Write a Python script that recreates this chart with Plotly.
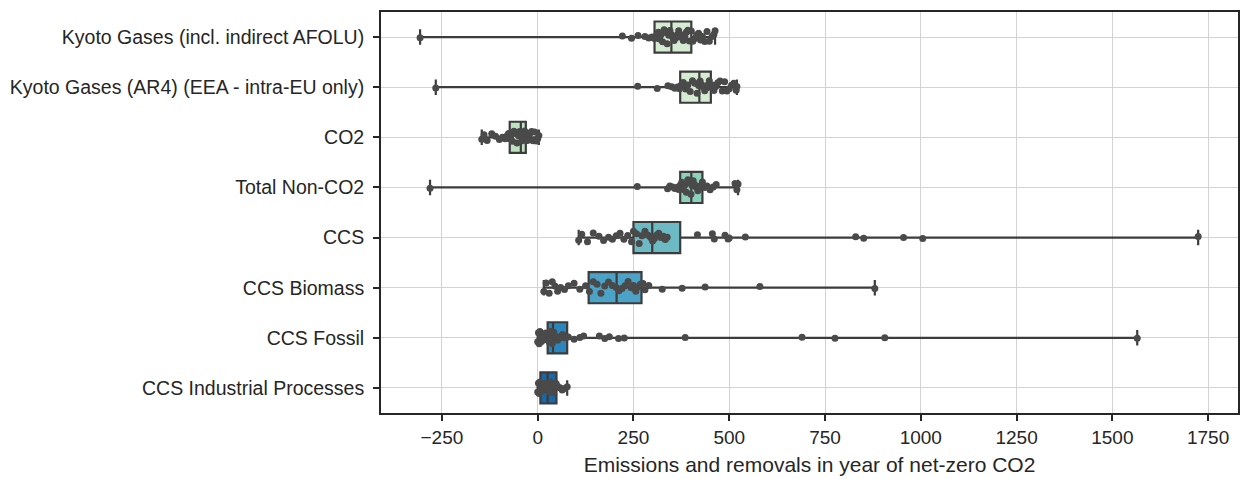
import plotly.graph_objects as go

categories = [
    "Kyoto Gases (incl. indirect AFOLU)",
    "Kyoto Gases (AR4) (EEA - intra-EU only)",
    "CO2",
    "Total Non-CO2",
    "CCS",
    "CCS Biomass",
    "CCS Fossil",
    "CCS Industrial Processes",
]

box_colors = ["#d5ecd2", "#d5ecd2", "#bde3bf", "#8dd0bb", "#6bbac4", "#4ba3c8", "#2b86bd", "#1b67a6"]

# box statistics (min, q1, median, q3, max)
mins = [-307, -266, -146, -281, 107, 16, 0, 0]
q1s = [305, 372, -73, 372, 250, 133, 26, 7]
medians = [349, 422, -44, 401, 299, 206, 40, 26]
q3s = [401, 452, -31, 430, 372, 271, 77, 49]
maxs = [463, 520, 3, 523, 1724, 880, 1565, 77]

# individual model values
points = [
    [-307, 221, 245, 262, 280, 290, 298, 305, 310, 315, 318, 322, 326, 330, 334, 338, 342, 345,
     349, 352, 356, 360, 364, 368, 372, 376, 380, 384, 388, 392, 396, 401, 405, 410, 415, 420,
     425, 430, 436, 442, 448, 455, 460, 463],
    [-266, 261, 312, 340, 350, 358, 365, 370, 374, 380, 386, 392, 398, 404, 410, 416, 420, 424,
     428, 432, 436, 440, 444, 448, 452, 456, 460, 465, 470, 476, 482, 488, 494, 500, 506, 512, 518, 520],
    [-146, -140, -132, -120, -110, -100, -92, -85, -80, -76, -73, -70, -66, -62, -58, -54, -50,
     -47, -44, -42, -40, -38, -36, -34, -32, -30, -27, -24, -20, -16, -12, -8, -4, 0, 3],
    [-281, 260, 339, 345, 352, 358, 364, 368, 372, 376, 380, 384, 388, 392, 396, 400, 403, 406,
     410, 414, 418, 422, 426, 430, 436, 442, 450, 458, 466, 515, 520, 523],
    [107, 115, 130, 145, 160, 172, 185, 195, 205, 215, 225, 235, 245, 250, 258, 265, 272, 280,
     288, 295, 300, 305, 310, 316, 322, 328, 333, 338, 417, 456, 461, 489, 497, 500, 542, 830,
     851, 955, 1005, 1724],
    [16, 22, 30, 38, 45, 52, 60, 70, 80, 95, 110, 125, 135, 145, 155, 165, 175, 185, 195, 205,
     212, 220, 228, 236, 244, 250, 256, 262, 268, 275, 280, 290, 325, 377, 437, 580, 880],
    [0, 2, 4, 6, 8, 10, 12, 15, 18, 21, 24, 27, 30, 33, 36, 38, 40, 42, 45, 48, 52, 56, 60, 65,
     70, 80, 95, 110, 120, 161, 175, 187, 211, 226, 385, 690, 776, 906, 1565],
    [0, 2, 4, 6, 8, 10, 13, 16, 19, 22, 25, 28, 31, 34, 37, 40, 44, 48, 52, 58, 64, 70, 77],
]

x_ticks = [-250, 0, 250, 500, 750, 1000, 1250, 1500, 1750]

FONT = "Liberation Sans, Arial, sans-serif"
EDGE = "#3c3c3c"

fig = go.Figure()

for i, cat in enumerate(categories):
    fig.add_trace(go.Box(
        y=[cat], orientation="h",
        lowerfence=[mins[i]], q1=[q1s[i]], median=[medians[i]], q3=[q3s[i]], upperfence=[maxs[i]],
        fillcolor=box_colors[i], line=dict(color=EDGE, width=2.2),
        width=0.62, whiskerwidth=0.5, boxpoints=False, showlegend=False, hoverinfo="skip",
    ))

for i, cat in enumerate(categories):
    fig.add_trace(go.Box(
        x=points[i], y=[cat] * len(points[i]), orientation="h",
        boxpoints="all", jitter=0.5, pointpos=0, width=0.62,
        fillcolor="rgba(0,0,0,0)", line=dict(color="rgba(0,0,0,0)", width=0),
        marker=dict(color="#4a4a4a", size=7, line=dict(width=0)),
        showlegend=False,
    ))

fig.update_layout(
    width=1245, height=479,
    margin=dict(l=381, r=5, t=12, b=66),
    paper_bgcolor="white", plot_bgcolor="white",
    boxmode="overlay",
    font=dict(family=FONT, size=19.5, color="#262626"),
    xaxis=dict(
        range=[-409, 1828], tickvals=x_ticks,
        showgrid=True, gridcolor="#d3d3d3", gridwidth=1.3, zeroline=False,
        showline=True, linecolor="#262626", linewidth=1.8, mirror=True,
        ticks="outside", ticklen=6, tickwidth=1.5, tickcolor="#262626",
        tickfont=dict(size=19),
        title=dict(text="Emissions and removals in year of net-zero CO2", font=dict(size=21), standoff=11),
    ),
    yaxis=dict(
        categoryorder="array", categoryarray=categories,
        range=[7.5, -0.5],
        showgrid=True, gridcolor="#d3d3d3", gridwidth=1.3, zeroline=False,
        showline=True, linecolor="#262626", linewidth=1.8, mirror=True,
        ticks="outside", ticklen=6, tickwidth=1.5, tickcolor="#262626",
        ticklabelstandoff=5,
    ),
)

fig.write_html("out.html")
